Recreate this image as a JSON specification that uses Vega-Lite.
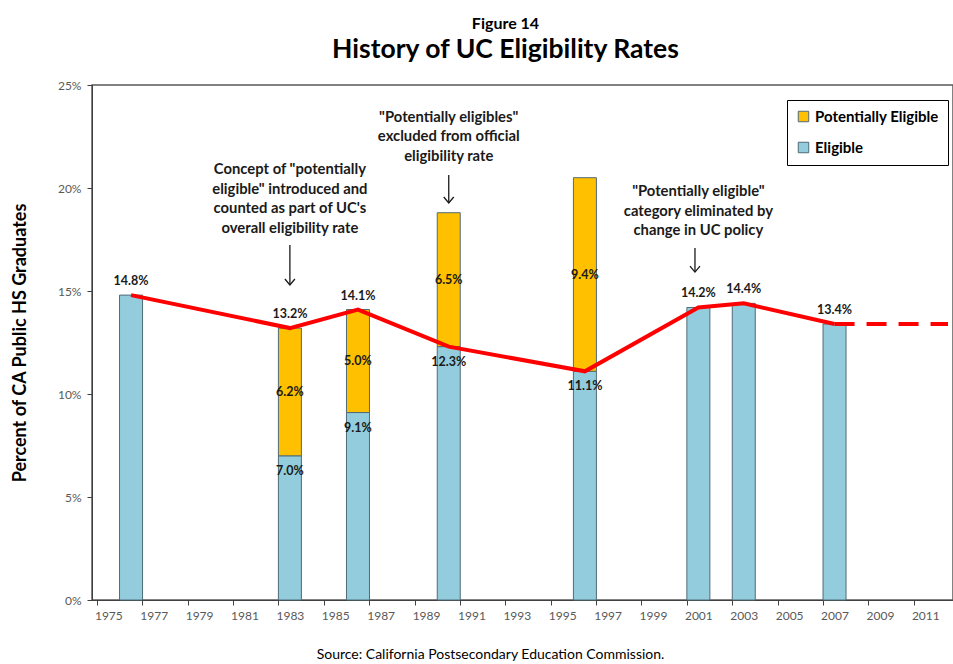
{
  "$schema": "https://vega.github.io/schema/vega-lite/v6.json",
  "width": 861,
  "height": 515,
  "autosize": {"type": "none"},
  "padding": {"left": 92, "top": 85, "right": 0, "bottom": 64},
  "background": "white",
  "config": {
    "font": "Lato",
    "view": {"stroke": "#595959", "strokeWidth": 1.5},
    "axis": {"grid": false, "domainColor": "#404040", "tickColor": "#404040", "labelColor": "#595959", "labelFontSize": 12, "tickSize": 5}
  },
  "title": {
    "text": "Figure 14",
    "subtitle": "History of UC Eligibility Rates",
    "fontSize": 16,
    "fontWeight": "bold",
    "color": "#000000",
    "subtitleFontSize": 26.5,
    "subtitleFontWeight": "bold",
    "subtitleColor": "#000000",
    "subtitlePadding": 5,
    "anchor": "middle",
    "frame": "group",
    "dx": -17,
    "offset": 16
  },
  "datasets": {
    "rates": [
      {"year": 1976, "eligible": 0.148, "potential": null, "official": 0.148},
      {"year": 1983, "eligible": 0.070, "potential": 0.062, "official": 0.132},
      {"year": 1986, "eligible": 0.091, "potential": 0.050, "official": 0.141},
      {"year": 1990, "eligible": 0.123, "potential": 0.065, "official": 0.123},
      {"year": 1996, "eligible": 0.111, "potential": 0.094, "official": 0.111},
      {"year": 2001, "eligible": 0.142, "potential": null, "official": 0.142},
      {"year": 2003, "eligible": 0.144, "potential": null, "official": 0.144},
      {"year": 2007, "eligible": 0.134, "potential": null, "official": 0.134}
    ],
    "projection": [
      {"year": 2007, "official": 0.134},
      {"year": 2012, "official": 0.134}
    ],
    "one": [{}]
  },
  "layer": [
    {
      "data": {"name": "rates"},
      "transform": [
        {"fold": ["eligible", "potential"], "as": ["key", "value"]},
        {"filter": "datum.value != null"}
      ],
      "mark": {"type": "bar", "width": 23, "stroke": "#4f6b78", "strokeWidth": 1},
      "encoding": {
        "x": {
          "field": "year", "type": "quantitative",
          "scale": {"domain": [1974.5, 2012], "nice": false, "zero": false},
          "axis": {
            "values": [1975,1976,1977,1978,1979,1980,1981,1982,1983,1984,1985,1986,1987,1988,1989,1990,1991,1992,1993,1994,1995,1996,1997,1998,1999,2000,2001,2002,2003,2004,2005,2006,2007,2008,2009,2010,2011,2012],
            "tickOffset": -11.5,
            "labelOffset": 11.5,
            "format": "d",
            "labelExpr": "datum.value % 2 == 1 ? datum.label : ''",
            "labelOverlap": false,
            "labelFlush": false,
            "labelPadding": 5,
            "title": "Source:  California Postsecondary Education Commission.",
            "titleFontSize": 14,
            "titleFontWeight": "normal",
            "titleColor": "#000000",
            "titlePadding": 26,
            "titleX": 398
          }
        },
        "y": {
          "field": "value", "type": "quantitative", "stack": "zero",
          "scale": {"domain": [0, 0.25], "nice": false},
          "axis": {
            "values": [0, 0.05, 0.1, 0.15, 0.2, 0.25],
            "format": ".0%",
            "labelPadding": 6,
            "title": "Percent of CA Public HS Graduates",
            "titleFontSize": 18,
            "titleFontWeight": "bold",
            "titleColor": "#000000",
            "titlePadding": 28
          }
        },
        "order": {"field": "key", "sort": "ascending"},
        "color": {
          "field": "key", "type": "nominal",
          "scale": {"domain": ["potential", "eligible"], "range": ["#FFC000", "#93CDDD"]},
          "legend": {
            "title": null,
            "orient": "none",
            "legendX": 695,
            "legendY": 15,
            "labelExpr": "datum.value == 'potential' ? 'Potentially Eligible' : 'Eligible'",
            "labelFontSize": 15,
            "labelFontWeight": "bold",
            "labelColor": "#000000",
            "symbolType": "square",
            "symbolSize": 110,
            "symbolStrokeColor": "#4f6b78",
            "symbolStrokeWidth": 1,
            "rowPadding": 15,
            "padding": 9,
            "strokeColor": "#000000",
            "fillColor": "#ffffff"
          }
        }
      }
    },
    {
      "data": {"name": "rates"},
      "mark": {"type": "line", "color": "#FF0000", "strokeWidth": 4},
      "encoding": {
        "x": {"field": "year", "type": "quantitative"},
        "y": {"field": "official", "type": "quantitative"}
      }
    },
    {
      "data": {"name": "projection"},
      "mark": {"type": "line", "color": "#FF0000", "strokeWidth": 4, "strokeDash": [20, 12]},
      "encoding": {
        "x": {"field": "year", "type": "quantitative"},
        "y": {"field": "official", "type": "quantitative"}
      }
    },
    {
      "data": {"name": "rates"},
      "transform": [{"filter": "datum.potential == null || datum.official != datum.eligible"}],
      "mark": {"type": "text", "fontSize": 12.5, "fontWeight": "bold", "color": "#1a1a1a", "dy": -14},
      "encoding": {
        "x": {"field": "year", "type": "quantitative"},
        "y": {"field": "official", "type": "quantitative"},
        "text": {"field": "official", "type": "quantitative", "format": ".1%"}
      }
    },
    {
      "data": {"name": "rates"},
      "transform": [{"filter": "datum.potential != null"}],
      "mark": {"type": "text", "fontSize": 12.5, "fontWeight": "bold", "color": "#1a1a1a", "dy": 15},
      "encoding": {
        "x": {"field": "year", "type": "quantitative"},
        "y": {"field": "eligible", "type": "quantitative"},
        "text": {"field": "eligible", "type": "quantitative", "format": ".1%"}
      }
    },
    {
      "data": {"name": "rates"},
      "transform": [
        {"filter": "datum.potential != null"},
        {"calculate": "datum.eligible + datum.potential / 2", "as": "mid"}
      ],
      "mark": {"type": "text", "fontSize": 12.5, "fontWeight": "bold", "color": "#1a1a1a"},
      "encoding": {
        "x": {"field": "year", "type": "quantitative"},
        "y": {"field": "mid", "type": "quantitative"},
        "text": {"field": "potential", "type": "quantitative", "format": ".1%"}
      }
    },
    {
      "data": {"name": "one"},
      "mark": {"type": "text", "fontSize": 14.8, "fontWeight": "bold", "color": "#1a1a1a", "lineHeight": 19.5, "baseline": "middle",
        "text": ["Concept of \"potentially", "eligible\" introduced and", "counted as part of UC's", "overall eligibility rate"]},
      "encoding": {"x": {"datum": 1983}, "y": {"datum": 0.2087}}
    },
    {
      "data": {"name": "one"},
      "mark": {"type": "text", "fontSize": 14.8, "fontWeight": "bold", "color": "#1a1a1a", "lineHeight": 19.5, "baseline": "middle",
        "text": ["\"Potentially eligibles\"", "excluded from official", "eligibility rate"]},
      "encoding": {"x": {"datum": 1990}, "y": {"datum": 0.234}}
    },
    {
      "data": {"name": "one"},
      "mark": {"type": "text", "fontSize": 14.8, "fontWeight": "bold", "color": "#1a1a1a", "lineHeight": 19.5, "baseline": "middle",
        "text": ["\"Potentially eligible\"", "category eliminated by", "change in UC policy"]},
      "encoding": {"x": {"datum": 2001}, "y": {"datum": 0.198}}
    },
    {
      "data": {"name": "one"},
      "mark": {"type": "rule", "color": "#1a1a1a", "strokeWidth": 1.3},
      "encoding": {"x": {"datum": 1983}, "y": {"datum": 0.1723}, "y2": {"datum": 0.1529}}
    },
    {
      "data": {"name": "one"},
      "mark": {"type": "rule", "color": "#1a1a1a", "strokeWidth": 1.3},
      "encoding": {"x": {"datum": 1990}, "y": {"datum": 0.2063}, "y2": {"datum": 0.1927}}
    },
    {
      "data": {"name": "one"},
      "mark": {"type": "rule", "color": "#1a1a1a", "strokeWidth": 1.3},
      "encoding": {"x": {"datum": 2000.85}, "y": {"datum": 0.1709}, "y2": {"datum": 0.1592}}
    },
    {
      "data": {"name": "one"},
      "mark": {"type": "point", "shape": "M-1,-1.2L0,0L1,-1.2", "size": 100, "filled": false, "stroke": "#1a1a1a", "strokeWidth": 1.3, "opacity": 1},
      "encoding": {"x": {"datum": 1983}, "y": {"datum": 0.1529}}
    },
    {
      "data": {"name": "one"},
      "mark": {"type": "point", "shape": "M-1,-1.2L0,0L1,-1.2", "size": 100, "filled": false, "stroke": "#1a1a1a", "strokeWidth": 1.3, "opacity": 1},
      "encoding": {"x": {"datum": 1990}, "y": {"datum": 0.1927}}
    },
    {
      "data": {"name": "one"},
      "mark": {"type": "point", "shape": "M-1,-1.2L0,0L1,-1.2", "size": 100, "filled": false, "stroke": "#1a1a1a", "strokeWidth": 1.3, "opacity": 1},
      "encoding": {"x": {"datum": 2000.85}, "y": {"datum": 0.1592}}
    }
  ]
}
